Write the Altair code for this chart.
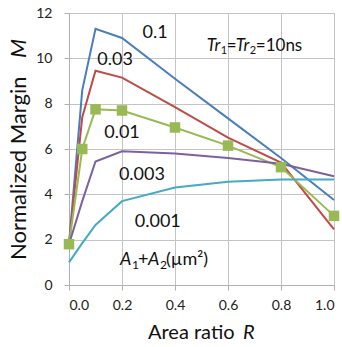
import altair as alt
import pandas as pd

R = [0, 0.05, 0.1, 0.2, 0.4, 0.6, 0.8, 1.0]
m_0_1 = [1.8, 8.6, 11.3, 10.9, 9.1, 7.35, 5.6, 3.75]
m_0_03 = [1.8, 7.4, 9.45, 9.15, 7.85, 6.5, 5.4, 2.45]
m_0_01 = [1.8, 6.0, 7.75, 7.7, 6.95, 6.15, 5.2, 3.05]
m_0_003 = [1.8, 3.7, 5.45, 5.9, 5.8, 5.6, 5.35, 4.8]
m_0_001 = [1.0, 1.85, 2.65, 3.7, 4.3, 4.55, 4.65, 4.65]

series_names = ["0.1", "0.03", "0.01", "0.003", "0.001"]
series_vals = [m_0_1, m_0_03, m_0_01, m_0_003, m_0_001]
colors = ["#4A7EBB", "#BE4B48", "#98B954", "#7D60A0", "#46AAC5"]

x_ticks = [0, 0.2, 0.4, 0.6, 0.8, 1.0]
y_ticks = [0, 2, 4, 6, 8, 10, 12]

# label positions (data coords)
label_R = [0.325, 0.174, 0.2, 0.275, 0.335]
label_M = [11.12, 9.93, 6.7, 4.85, 2.78]

FONT = "Lato"
INK = "#111111"

rows = []
for name, vals in zip(series_names, series_vals):
    for r, m in zip(R, vals):
        rows.append({"R": r, "M": m, "s": name})
df = pd.DataFrame(rows)

xs = alt.Scale(domain=[0, 1], nice=False)
ys = alt.Scale(domain=[0, 12], nice=False)

base = alt.Chart(df)
lines = base.mark_line(strokeWidth=2).encode(
    x=alt.X("R:Q", scale=xs, axis=alt.Axis(title=None, values=x_ticks, format=".1f")),
    y=alt.Y("M:Q", scale=ys, axis=alt.Axis(title=None, values=y_ticks)),
    color=alt.Color("s:N", scale=alt.Scale(domain=series_names, range=colors), legend=None),
    detail="s:N",
)
points = base.transform_filter(alt.datum.s == "0.01").mark_point(
    shape="square", filled=True, size=110, opacity=1, color="#98B954"
).encode(x=alt.X("R:Q", scale=xs), y=alt.Y("M:Q", scale=ys))

ldf = pd.DataFrame({"R": label_R, "M": label_M, "t": series_names})
labels = alt.Chart(ldf).mark_text(font=FONT, fontSize=18, color=INK).encode(
    x=alt.X("R:Q", scale=xs), y=alt.Y("M:Q", scale=ys), text="t:N")


def rich(r, m, pieces):
    layers = []
    for text, dx, dy, size, style in pieces:
        d = pd.DataFrame({"R": [r], "M": [m], "t": [text]})
        layers.append(alt.Chart(d).mark_text(
            font=FONT, fontSize=size, fontStyle=style, align="left", baseline="middle",
            dx=dx, dy=dy, color=INK).encode(
            x=alt.X("R:Q", scale=xs), y=alt.Y("M:Q", scale=ys), text="t:N"))
    return layers


tr = rich(0.52, 10.55, [
    ("Tr", 0, 0, 17, "italic"),
    ("1", 14, 5, 11, "normal"),
    ("=", 20, 0, 17, "normal"),
    ("Tr", 29, 0, 17, "italic"),
    ("2", 43, 5, 11, "normal"),
    ("=10ns", 49, 0, 17, "normal"),
])
area = rich(0.192, 1.1, [
    ("A", 0, 0, 18, "italic"),
    ("1", 12, 5, 12, "normal"),
    ("+", 18, 0, 18, "normal"),
    ("A", 28, 0, 18, "italic"),
    ("2", 40, 5, 12, "normal"),
    ("(\u00b5m\u00b2)", 46, 0, 18, "normal"),
])


def title_piece(text, style, x, y, angle=0, size=17):
    d = pd.DataFrame({"t": [text]})
    mk = dict(font=FONT, fontSize=size, fontStyle=style, align="left",
              baseline="middle", color=INK)
    if angle:
        mk["angle"] = angle
    return alt.Chart(d).mark_text(**mk).encode(x=x, y=y, text="t:N")


xtitle = [
    title_piece("Area ratio", "normal", alt.value(79), alt.value(320), size=20),
    title_piece("R", "italic", alt.value(174), alt.value(320), size=20),
]
ytitle = [
    title_piece("Normalized Margin", "normal", alt.value(-50), alt.value(247), angle=270, size=22),
    title_piece("M", "italic", alt.value(-50), alt.value(45), angle=270, size=22),
]

chart = alt.layer(lines, points, labels, *tr, *area, *xtitle, *ytitle).properties(
    width=265, height=272,
    autosize=alt.AutoSizeParams(type="none"),
    padding={"left": 69, "top": 13, "right": 8, "bottom": 62},
).configure_axis(
    gridColor="#C4C4C4", domainColor="#B0B0B0", tickColor="#B0B0B0", tickSize=5,
    labelFont=FONT, labelFontSize=14, labelColor="#222222",
).configure_axisX(labelPadding=8).configure_axisY(
    labelPadding=12
).configure_view(stroke="#C4C4C4")

chart.save("out.html", embed_options={"renderer": "svg", "actions": False})
